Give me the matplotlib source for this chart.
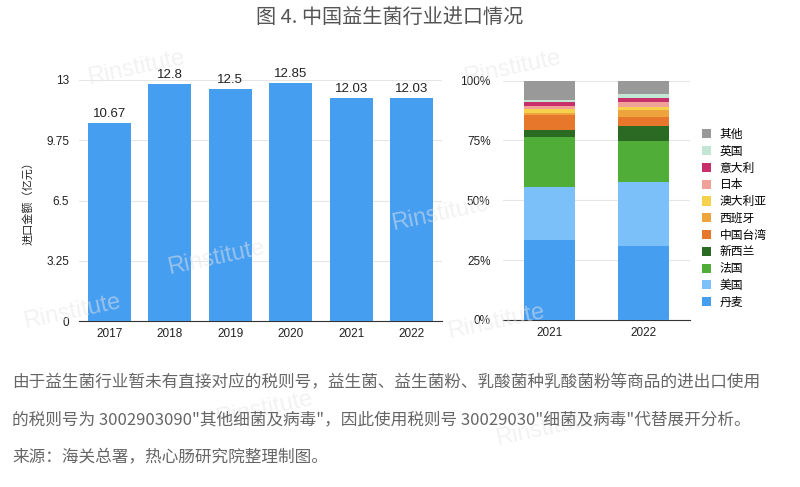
import numpy as np
import matplotlib
matplotlib.use("Agg")
from matplotlib import pyplot as plt

plt.rcParams['font.family'] = ['Liberation Sans', 'Noto Sans CJK SC', 'DejaVu Sans']

# left chart: import value (100 million yuan)
years = ['2017', '2018', '2019', '2020', '2021', '2022']
values = [10.67, 12.8, 12.5, 12.85, 12.03, 12.03]
value_labels = ['10.67', '12.8', '12.5', '12.85', '12.03', '12.03']
yticks_left = [0, 3.25, 6.5, 9.75, 13]
ytick_labels_left = ['0', '3.25', '6.5', '9.75', '13']

# right chart: share by origin (%)
share_years = ['2021', '2022']
origins = ['丹麦', '美国', '法国', '新西兰', '中国台湾', '西班牙',
           '澳大利亚', '日本', '意大利', '英国', '其他']
share_2021 = [33.4, 22.3, 20.6, 3.1, 6.3, 0.7, 1.6, 1.5, 1.7, 0.7, 8.1]
share_2022 = [30.9, 26.8, 17.2, 6.2, 3.6, 2.8, 1.6, 1.8, 2.0, 1.3, 5.8]
origin_colors = ['#469ef1', '#7bc0f8', '#50ad38', '#2b6a22', '#e6772b', '#eea43c',
                 '#f6d14c', '#f0a299', '#c8306c', '#c2e6d3', '#999999']

cjk = ['Noto Sans CJK SC', 'DejaVu Sans']

fig = plt.figure(figsize=(8, 4.87), dpi=100)

# faint watermarks
for (wx, wy) in [(0.17, 0.86), (0.64, 0.86), (0.55, 0.56), (0.27, 0.47),
                 (0.09, 0.36), (0.62, 0.34), (0.33, 0.16), (0.68, 0.12)]:
    fig.text(wx, wy, 'Rinstitute', fontsize=17, color='#e6e6e6', alpha=0.5,
             rotation=12, ha='center', va='center', zorder=0)

fig.text(0.487, 0.962, '图 4. 中国益生菌行业进口情况', fontsize=14.5, color='#555555',
         ha='center', va='center', family=cjk)

# left bar chart
ax1 = fig.add_axes([79 / 800, 1 - 321 / 487, 363 / 800, 241 / 487])
x = np.arange(len(years))
ax1.bar(x, values, width=0.71, color='#469ef1', zorder=3)
for xi, v, lab in zip(x, values, value_labels):
    ax1.text(xi, v + 0.15, lab, ha='center', va='bottom', fontsize=9.5, color='#222222')
ax1.set_xlim(-0.5, len(years) - 0.5)
ax1.set_ylim(0, 13)
ax1.set_yticks(yticks_left)
ax1.set_yticklabels(ytick_labels_left)
ax1.set_xticks(x)
ax1.set_xticklabels(years)
ax1.grid(axis='y', color='#e6e6e6', linewidth=0.8, zorder=0)
for s in ['top', 'right', 'left']:
    ax1.spines[s].set_visible(False)
ax1.spines['bottom'].set_color('#333333')
ax1.tick_params(axis='both', length=0, labelsize=8.5, colors='#222222')
ax1.tick_params(axis='y', pad=7)
ax1.tick_params(axis='x', pad=5)
ax1.set_ylabel('进口金额（亿元）', fontsize=8, color='#222222', labelpad=9, family=cjk)
ax1.patch.set_alpha(0)

# right stacked percentage chart
ax2 = fig.add_axes([503 / 800, 1 - 320 / 487, 187 / 800, 239.5 / 487])
xs = np.arange(len(share_years))
bottom = np.zeros(len(share_years))
handles = []
for i, name in enumerate(origins):
    vals = np.array([share_2021[i], share_2022[i]])
    h = ax2.bar(xs, vals, bottom=bottom, width=0.55, color=origin_colors[i],
                label=name, zorder=3)
    handles.append(h)
    bottom += vals
ax2.set_xlim(-0.5, 1.5)
ax2.set_ylim(0, 100)
ax2.set_yticks([0, 25, 50, 75, 100])
ax2.set_yticklabels(['0%', '25%', '50%', '75%', '100%'])
ax2.set_xticks(xs)
ax2.set_xticklabels(share_years)
ax2.grid(axis='y', color='#e6e6e6', linewidth=0.8, zorder=0)
for s in ['top', 'right', 'left']:
    ax2.spines[s].set_visible(False)
ax2.spines['bottom'].set_color('#333333')
ax2.tick_params(axis='both', length=0, labelsize=8.5, colors='#222222')
ax2.tick_params(axis='y', pad=9)
ax2.tick_params(axis='x', pad=5)
ax2.patch.set_alpha(0)

fig.legend(handles[::-1], origins[::-1], loc='upper left',
           bbox_to_anchor=(702 / 800, 1 - 128 / 487), frameon=False,
           borderaxespad=0, borderpad=0,
           handlelength=0.8, handleheight=0.8,
           labelspacing=0.32, handletextpad=0.7,
           prop={'family': cjk, 'size': 8.5})

# footnotes
fig.text(12 / 800, 1 - 383 / 487,
         '由于益生菌行业暂未有直接对应的税则号，益生菌、益生菌粉、乳酸菌种乳酸菌粉等商品的进出口使用',
         fontsize=12, color='#666666', va='center', family=cjk)
fig.text(12 / 800, 1 - 420 / 487,
         '的税则号为 3002903090"其他细菌及病毒"，因此使用税则号 30029030"细菌及病毒"代替展开分析。',
         fontsize=12, color='#666666', va='center', family=cjk)
fig.text(12 / 800, 1 - 458 / 487, '来源：海关总署，热心肠研究院整理制图。',
         fontsize=12, color='#666666', va='center', family=cjk)

fig.savefig('out.png', dpi=100)
